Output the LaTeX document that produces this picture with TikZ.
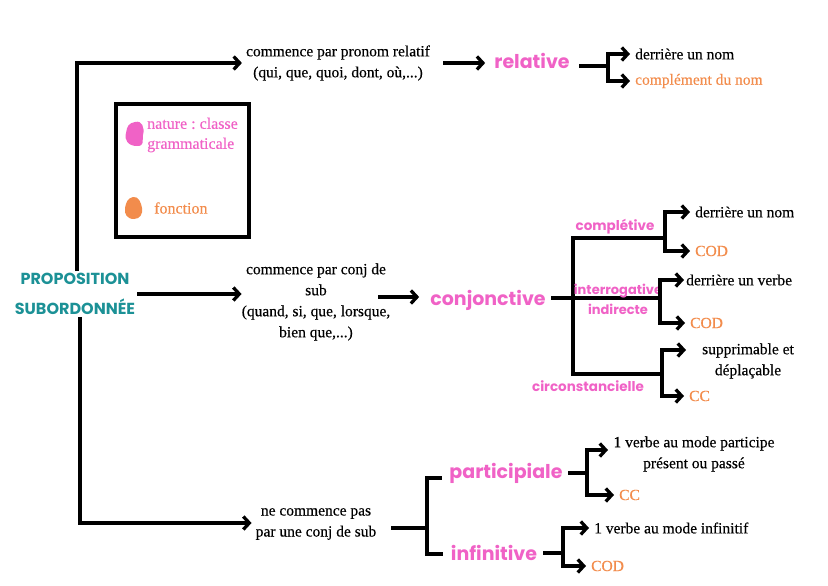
\documentclass[tikz,border=0pt]{standalone}
\usepackage{fontspec}
\setmainfont{Liberation Serif}[FakeBold=0.35]
\newfontfamily\headfont{Poppins}
\usetikzlibrary{arrows.meta}
\definecolor{pinkc}{HTML}{F062C6}
\definecolor{orangec}{HTML}{F28C4C}
\definecolor{tealc}{HTML}{1C9196}
\frenchspacing
\tikzset{
  txt/.style={font=\fontsize{15.5}{21}\selectfont, align=center, inner sep=1pt},
  ltxt/.style={txt, anchor=west},
  otxt/.style={ltxt, text=orangec},
  bigpink/.style={font=\headfont\bfseries\fontsize{19}{20}\selectfont, text=pinkc, inner sep=1pt},
  smallpink/.style={font=\headfont\bfseries\fontsize{13.5}{19}\selectfont, text=pinkc, align=center, inner sep=1pt},
  ln/.style={line width=3.3pt, line cap=rect},
  arr/.style={line width=3.3pt, -{Straight Barb[length=6pt,width=13pt,line width=3.3pt]}},
}
\begin{document}
\begin{tikzpicture}[x=1pt,y=-1pt]
\useasboundingbox (0,0) rectangle (828,586);
% root
\node[font=\headfont\bfseries\fontsize{16}{30}\selectfont, text=tealc, align=center, inner sep=2pt] (root) at (75,294) {PROPOSITION\\SUBORDONNÉE};
% legend box
\node[draw, line width=3.3pt, minimum width=133pt, minimum height=133pt] (legend) at (182.5,170.5) {};
\fill[pinkc] (135,122) .. controls (142,120) and (145,128) .. (143,135) .. controls (142,141) and (145,146) .. (137,146) .. controls (128,146) and (124,140) .. (126,133) .. controls (127,126) and (129,123) .. (135,122) -- cycle;
\fill[orangec] (133,197) .. controls (139,196) and (141,203) .. (142,208) .. controls (143,214) and (140,219) .. (134,219) .. controls (127,219) and (124,214) .. (125,208) .. controls (126,202) and (128,198) .. (133,197) -- cycle;
\node[txt, text=pinkc, anchor=west, align=left, font=\fontsize{16}{20}\selectfont] (nat) at (146,135) {nature : classe\\grammaticale};
\node[otxt, font=\fontsize{16}{20}\selectfont] (fonc) at (153,208) {fonction};
% level 1 texts
\node[txt] (t1) at (338,63) {commence par pronom relatif\\(qui, que, quoi, dont, où,...)};
\node[txt] (t2) at (316,302) {commence par conj de\\sub\\(quand, si, que, lorsque,\\bien que,...)};
\node[txt] (t3) at (316,524) {ne commence pas\\par une conj de sub};
\draw[arr] ([xshift=2pt]root.north) |- ([xshift=-3pt]t1.west);
\draw[arr] (root.east) -- ([xshift=1pt]root.east -| t2.west);
\draw[arr] ([xshift=5pt]root.south) |- ([xshift=-3pt,yshift=1pt]t3.west);
% relative
\node[bigpink] (rel) at (532,61) {relative};
\coordinate (a1) at (443,63);
\draw[arr] (a1) -- ([xshift=-8pt]a1 -| rel.west);
\coordinate (rj) at (608,66);
\node[ltxt] (r1) at (634,54) {derrière un nom};
\node[otxt] (r2) at (634,81) {complément du nom};
\draw[ln] ([xshift=10pt]rel.east |- rj) -- (rj);
\draw[arr] (rj) |- ([xshift=-4pt]r1.west);
\draw[arr] (rj) |- ([xshift=-4pt]r2.west);
% conjonctive
\node[bigpink] (conj) at (488,300) {conjonctive};
\coordinate (a2) at (378,297);
\draw[arr] (a2) -- ([xshift=-10pt]a2 -| conj.west);
\coordinate (cj) at (573,298);
\coordinate (ctop) at (573,238);
\coordinate (cbot) at (573,374);
\draw[ln] ([xshift=6pt]conj.east |- cj) -- (cj);
\draw[ln] (ctop) -- (cbot);
\coordinate (s1) at (665,238);
\coordinate (s2) at (660,298);
\coordinate (s3) at (662,374);
\draw[ln] (ctop) -- (s1);
\draw[ln] (cj) -- (s2);
\draw[ln] (cbot) -- (s3);
\node[smallpink] (comp) at (615,227) {complétive};
\node[smallpink, font=\headfont\bfseries\fontsize{13}{20}\selectfont] (interr) at (618,299) {interrogative\\indirecte};
\node[smallpink] (circ) at (588,386) {circonstancielle};
% sub forks
\node[ltxt] (c1) at (694,212) {derrière un nom};
\node[otxt] (c2) at (694,251) {COD};
\draw[ln] (s1 |- c1) -- (s1 |- c2);
\draw[arr] (s1 |- c1) -- ([xshift=-4pt]c1.west);
\draw[arr] (s1 |- c2) -- ([xshift=-4pt]c2.west);
\node[ltxt] (c3) at (685,280) {derrière un verbe};
\node[otxt] (c4) at (689,323) {COD};
\draw[ln] (s2 |- c3) -- (s2 |- c4);
\draw[arr] (s2 |- c3) -- ([xshift=-1pt]c3.west);
\draw[arr] (s2 |- c4) -- ([xshift=-4pt]c4.west);
\node[txt] (c5) at (748,361) {supprimable et\\déplaçable};
\node[otxt] (c6) at (688,396) {CC};
\coordinate (c5a) at (686,350);
\draw[ln] (s3 |- c5a) -- (s3 |- c6);
\draw[arr] (s3 |- c5a) -- (c5a);
\draw[arr] (s3 |- c6) -- ([xshift=-4pt]c6.west);
% third branch
\coordinate (nj) at (427,528);
\coordinate (ntop) at (427,478);
\coordinate (nbot) at (427,554);
\draw[ln] (393,528) coordinate (t3e) -- (nj);
\draw[ln] (ntop) -- (nbot);
\node[bigpink] (part) at (506,473) {participiale};
\node[bigpink] (inf) at (494,553) {infinitive};
\draw[ln] (ntop) -- ([xshift=-8pt]ntop -| part.west);
\draw[ln] (nbot) -- ([xshift=-8pt]nbot -| inf.west);
\coordinate (pj) at (587,473);
\draw[ln] ([xshift=6pt]part.east |- pj) -- (pj);
\node[txt] (p1) at (694,454) {1 verbe au mode participe\\présent ou passé};
\node[otxt] (p2) at (618,495) {CC};
\coordinate (p1a) at (608,450);
\draw[ln] (pj |- p1a) -- (pj |- p2);
\draw[arr] (pj |- p1a) -- (p1a);
\draw[arr] (pj |- p2) -- ([xshift=-4pt]p2.west);
\coordinate (ij) at (563,553);
\draw[ln] ([xshift=6pt]inf.east |- ij) -- (ij);
\node[ltxt] (i1) at (593,528) {1 verbe au mode infinitif};
\node[otxt] (i2) at (590,566) {COD};
\draw[ln] (ij |- i1) -- (ij |- i2);
\draw[arr] (ij |- i1) -- ([xshift=-4pt]i1.west);
\draw[arr] (ij |- i2) -- ([xshift=-4pt]i2.west);
\end{tikzpicture}
\end{document}
